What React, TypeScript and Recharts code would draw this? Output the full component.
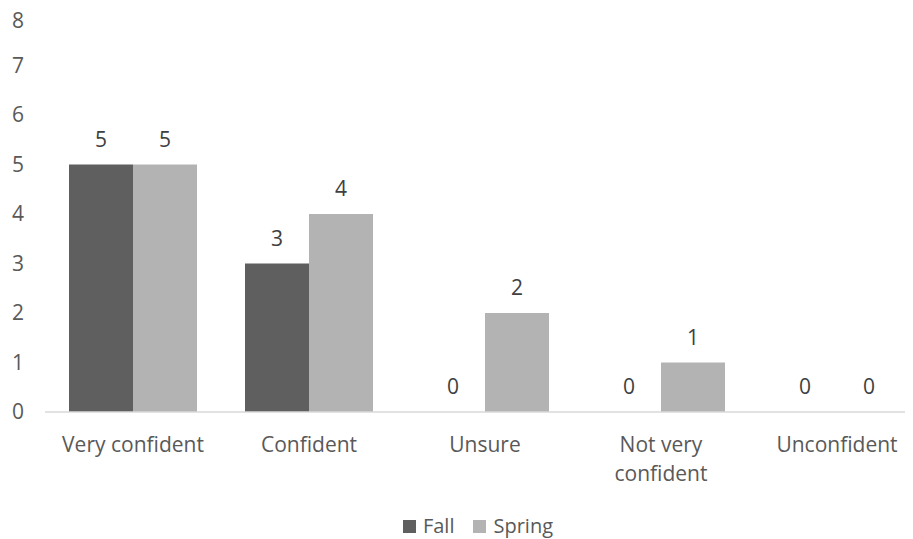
import { Bar, BarChart, LabelList, Legend, XAxis, YAxis } from "recharts";

const categories = ["Very confident", "Confident", "Unsure", "Not very confident", "Unconfident"];
const fall = [5, 3, 0, 0, 0];
const spring = [5, 4, 2, 1, 0];
const yTicks = [0, 1, 2, 3, 4, 5, 6, 7, 8];

const data = categories.map((name, i) => ({ name, Fall: fall[i], Spring: spring[i] }));

const FALL = "#5f5f5f";
const SPRING = "#b3b3b3";
const TEXT = "#595959";
const FONT = "'Open Sans', sans-serif";

// greedy word wrap, about 14 characters a line
function wrap(label: string, max = 14) {
  const lines: string[] = [];
  for (const w of label.split(" ")) {
    const last = lines[lines.length - 1];
    if (last && (last + " " + w).length <= max) lines[lines.length - 1] = last + " " + w;
    else lines.push(w);
  }
  return lines;
}

function CategoryTick(props: any) {
  const { x, y, payload } = props;
  return (
    <text x={x} y={y + 39.5} textAnchor="middle" fill={TEXT} fontSize={21} fontFamily={FONT}>
      {wrap(payload.value).map((line, i) => (
        <tspan key={i} x={x} dy={i ? 29 : 0}>
          {line}
        </tspan>
      ))}
    </text>
  );
}

function LegendBox({ payload }: any) {
  return (
    <div
      style={{
        height: 40,
        boxSizing: "border-box",
        paddingTop: 14,
        display: "flex",
        justifyContent: "center",
        alignItems: "center",
        color: TEXT,
        fontSize: 20,
        lineHeight: "26px",
      }}
    >
      {(payload || []).map((p: any, i: number) => (
        <span key={p.value} style={{ display: "flex", alignItems: "center", marginLeft: i ? 19 : 0 }}>
          <span style={{ width: 13, height: 13, background: p.color, marginRight: 7, display: "inline-block" }} />
          {p.value}
        </span>
      ))}
    </div>
  );
}

export default function App() {
  return (
    <div style={{ width: 931, height: 531, fontFamily: FONT }}>
      <style>{"body { overflow: hidden; } .recharts-surface { overflow: visible; }"}</style>
      <BarChart
        width={931}
        height={531}
        data={data}
        margin={{ top: 8, right: 14, bottom: 0, left: 0 }}
        barGap={0}
        barCategoryGap={24}
      >
        <XAxis
          dataKey="name"
          height={87}
          axisLine={{ stroke: "#d9d9d9", strokeWidth: 1.5 }}
          tickLine={false}
          tickSize={0}
          tickMargin={0}
          interval={0}
          tick={<CategoryTick />}
        />
        <YAxis
          width={37}
          domain={[0, 8]}
          ticks={yTicks}
          axisLine={false}
          tickLine={false}
          tickSize={0}
          tickMargin={21}
          tick={{ fill: TEXT, fontSize: 21 }}
        />
        <Legend
          verticalAlign="bottom"
          content={<LegendBox />}
          wrapperStyle={{ left: 0, width: 940 }}
        />
        <Bar dataKey="Fall" fill={FALL} barSize={64} minPointSize={0.01} isAnimationActive={false}>
          <LabelList dataKey="Fall" position="top" offset={18} fill="#404040" fontSize={21} />
        </Bar>
        <Bar dataKey="Spring" fill={SPRING} barSize={64} minPointSize={0.01} isAnimationActive={false}>
          <LabelList dataKey="Spring" position="top" offset={18} fill="#404040" fontSize={21} />
        </Bar>
      </BarChart>
    </div>
  );
}
